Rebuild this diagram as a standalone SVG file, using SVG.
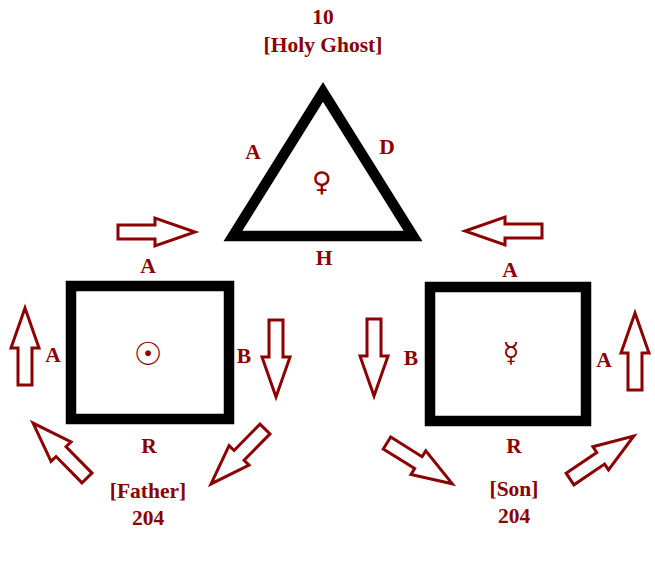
<svg xmlns="http://www.w3.org/2000/svg" width="655" height="574" viewBox="0 0 655 574">
<style>
.lbl{font-family:"Liberation Serif","Times New Roman",serif;font-weight:bold;font-size:21.5px;fill:#8b0000;text-anchor:middle}
.sym{font-family:"DejaVu Sans",sans-serif;font-size:27px;fill:#8b0000;text-anchor:middle}
.shape{fill:none;stroke:#000;stroke-width:10.5;stroke-linejoin:miter}
.arr{fill:#fff;stroke:#8b0000;stroke-width:3;stroke-linejoin:miter}
</style>
<defs>
<path id="ar" d="M0,-7 L37,-7 L37,-14 L77,0 L37,14 L37,7 L0,7 Z"/>
</defs>
<rect width="655" height="574" fill="#fff"/>
<g id="title">
<text class="lbl" x="323" y="24">10</text>
<text class="lbl" x="323" y="52">[Holy Ghost]</text>
</g>
<g id="holy-ghost">
<polygon class="shape" points="323,92 413,236 233,236"/>
<text class="sym" x="322" y="191">♀</text>
<text class="lbl" x="253" y="159">A</text>
<text class="lbl" x="387" y="154">D</text>
<text class="lbl" x="324" y="265">H</text>
</g>
<g id="father">
<rect class="shape" x="71" y="286" width="158" height="133"/>
<text class="sym" x="148" y="365" style="font-size:32px">☉</text>
<text class="lbl" x="148" y="273">A</text>
<text class="lbl" x="53" y="362">A</text>
<text class="lbl" x="244" y="363">B</text>
<text class="lbl" x="149" y="453">R</text>
<text class="lbl" x="148" y="498">[Father]</text>
<text class="lbl" x="148" y="525">204</text>
</g>
<g id="son">
<rect class="shape" x="430" y="287" width="156" height="134"/>
<text class="sym" x="511" y="362">☿</text>
<text class="lbl" x="510" y="277">A</text>
<text class="lbl" x="411" y="365">B</text>
<text class="lbl" x="604" y="367">A</text>
<text class="lbl" x="514" y="453">R</text>
<text class="lbl" x="514" y="496">[Son]</text>
<text class="lbl" x="514" y="523">204</text>
</g>
<g id="connectors">
<use href="#ar" class="arr" transform="translate(118,232)"/>
<use href="#ar" class="arr" transform="translate(542,231) rotate(180)"/>
<use href="#ar" class="arr" transform="translate(25,385) rotate(-90)"/>
<use href="#ar" class="arr" transform="translate(87,478) rotate(-134.5)"/>
<use href="#ar" class="arr" transform="translate(276,320) rotate(90)"/>
<use href="#ar" class="arr" transform="translate(265,429) rotate(134.5)"/>
<use href="#ar" class="arr" transform="translate(374,319) rotate(90)"/>
<use href="#ar" class="arr" transform="translate(387,443) rotate(32)"/>
<use href="#ar" class="arr" transform="translate(635,390) rotate(-90)"/>
<use href="#ar" class="arr" transform="translate(570,479) rotate(-34)"/>
</g>
</svg>
